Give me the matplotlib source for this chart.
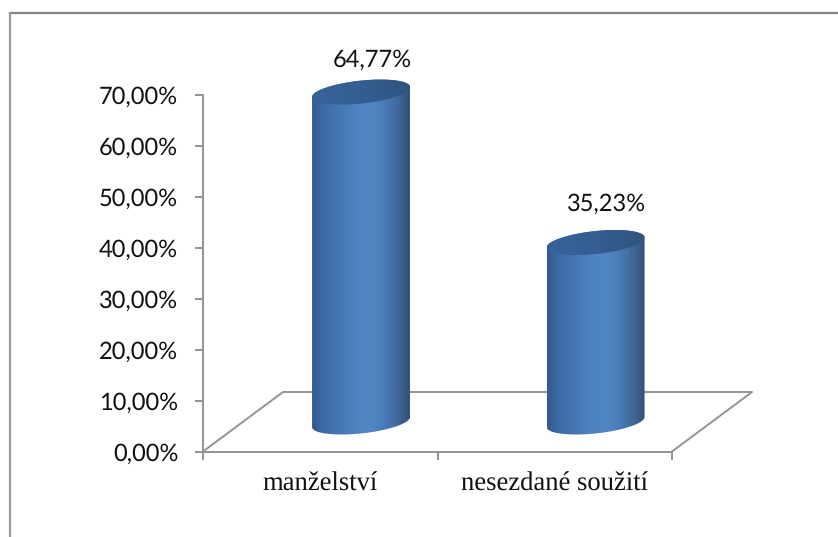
import numpy as np
import matplotlib
matplotlib.use("Agg")
import matplotlib.pyplot as plt
from matplotlib.colors import LinearSegmentedColormap
from matplotlib.patches import Polygon

plt.rcParams["text.hinting"] = "none"

categories = ["manželství", "nesezdané soužití"]
values = [64.77, 35.23]
value_labels = ["64,77%", "35,23%"]
y_ticks = [0, 10, 20, 30, 40, 50, 60, 70]
y_labels = ["0,00%", "10,00%", "20,00%", "30,00%", "40,00%", "50,00%", "60,00%", "70,00%"]

W, H = 838, 537
GREY = "#939393"

fig = plt.figure(figsize=(W / 100, H / 100), dpi=100, facecolor="white")

# outer chart frame, only top and left survive in the picture
fig.add_artist(plt.Line2D([9.5 / W, 1], [1 - 13 / H, 1 - 13 / H], color="#858585", lw=1.6))
fig.add_artist(plt.Line2D([9.5 / W, 9.5 / W], [0, 1 - 13 / H], color="#9a9a9a", lw=1.6))

# axes box is the front edge of the floor up to the 70 % tick
left, right, bottom, top = 203, 672, 451.5, 95
ax = fig.add_axes([left / W, 1 - bottom / H, (right - left) / W, (bottom - top) / H])
ax.set_xlim(0, 2)
ax.set_ylim(0, 70)
ax.patch.set_visible(False)
for s in ["top", "right"]:
    ax.spines[s].set_visible(False)
for s in ["left", "bottom"]:
    ax.spines[s].set_color(GREY)
    ax.spines[s].set_linewidth(1.4)

ax.set_yticks(y_ticks)
ax.set_yticklabels(y_labels, fontfamily="Lato", fontsize=17, color="#111111")
ax.set_xticks([0, 1, 2])
ax.set_xticklabels([])
ax.tick_params(axis="both", length=5.8, width=1.4, color=GREY)
ax.tick_params(axis="y", pad=12)

px_x = 2 / (right - left)
px_y = 70 / (bottom - top)

# floor: back edge and the two slanted sides
depth_x = 80 * px_x
depth_y = 59.5 * px_y
ax.plot([0, depth_x, 2 + depth_x, 2], [0, depth_y, depth_y, 0], color=GREY, lw=1.4,
        clip_on=False, zorder=1)

cmap = LinearSegmentedColormap.from_list("cyl", [
    (0.00, "#33598c"), (0.12, "#3c6ca6"), (0.45, "#4e83c1"), (0.62, "#5186c4"),
    (0.80, "#4675ad"), (0.93, "#3a5f8b"), (1.00, "#324f74")])
top_cmap = LinearSegmentedColormap.from_list("cyltop", ["#38639a", "#345d92", "#305480"])

half_w = 49 * px_x
semi_b = 11.5 * px_y
tilt = 5 * px_y
base_y = 5.8
shift = 0.174
t = np.linspace(0, 2 * np.pi, 200)
label_gap = [6.3, 7.6]

for i, v in enumerate(values):
    cx = i + 0.5 + shift
    # lower half of the base ellipse, up one side, upper part of the top ellipse
    tb = np.linspace(np.pi, 2 * np.pi, 100)
    bx = cx + half_w * np.cos(tb)
    by = base_y + tilt * np.cos(tb) + semi_b * np.sin(tb)
    tt = np.linspace(0, np.pi, 100)
    ux = cx + half_w * np.cos(tt)
    uy = base_y + v + tilt * np.cos(tt) + semi_b * np.sin(tt)
    body = Polygon(np.column_stack([np.r_[bx, ux], np.r_[by, uy]]), closed=True,
                   transform=ax.transData, fc="none", ec="none")
    ax.add_patch(body)
    body.set_clip_on(False)
    grad = np.linspace(0, 1, 256).reshape(1, -1)
    im = ax.imshow(grad, cmap=cmap, aspect="auto", zorder=3,
                   extent=[cx - half_w, cx + half_w, 0, base_y + v + 3])
    im.set_clip_path(body)
    im.set_clip_box(fig.bbox)

    cap = Polygon(np.column_stack([cx + half_w * np.cos(t),
                                   base_y + v + tilt * np.cos(t) + semi_b * np.sin(t)]),
                  closed=True, transform=ax.transData, fc="none", ec="none")
    ax.add_patch(cap)
    cap.set_clip_on(False)
    im2 = ax.imshow(grad, cmap=top_cmap, aspect="auto", zorder=4,
                    extent=[cx - half_w, cx + half_w, base_y + v - 4, base_y + v + 4])
    im2.set_clip_path(cap)
    im2.set_clip_box(fig.bbox)

    ax.text(cx + 11 * px_x, base_y + v + label_gap[i], value_labels[i], ha="center", va="center",
            fontfamily="Lato", fontsize=17, color="#111111", zorder=5)
    ax.text(i + 0.5, -7.76, categories[i], ha="center", va="baseline",
            fontfamily="Liberation Serif", fontsize=19.2, color="#111111", clip_on=False)

ax.set_xlim(0, 2)
ax.set_ylim(0, 70)

fig.savefig("out.png", dpi=100)
